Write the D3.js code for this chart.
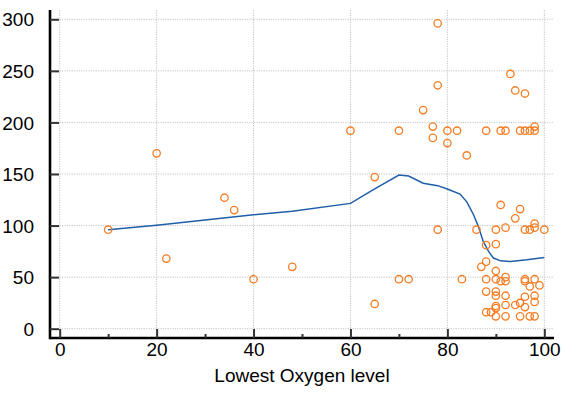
<!DOCTYPE html>
<html><head><meta charset="utf-8">
<script src="https://cdn.jsdelivr.net/npm/d3@7"></script>
<style>body{margin:0;background:#fff}svg{display:block}</style>
</head><body>
<svg id="c" width="561" height="394"></svg>
<script>
const xTicks = [0, 20, 40, 60, 80, 100];
const xMinorTicks = [10, 30, 50, 70, 90];
const yTicks = [0, 50, 100, 150, 200, 250, 300];
const xTitle = "Lowest Oxygen level";

const pointsX = [10,20,22,34,36,40,48,60,65,65,70,70,72,75,77,77,78,78,78,80,80,82,83,84,
  86,87,88,88,88,88,88,88,89,90,90,90,90,90,90,90,90,90,91,91,91,92,92,92,92,92,92,92,
  93,94,94,94,95,95,95,95,96,96,96,96,96,96,96,97,97,97,97,98,98,98,98,98,98,98,98,99,100];
const pointsY = [96,170,68,127,115,48,60,192,147,24,192,48,48,212,196,185,296,236,96,192,180,192,48,168,
  96,60,192,81,65,48,36,16,16,96,82,56,48,36,32,22,20,12,192,120,46,192,98,50,46,32,23,12,
  247,231,107,23,12,116,192,25,228,192,96,48,46,31,21,12,192,96,41,26,192,196,98,102,48,32,12,42,96];

const lineX = [10,20,40,48,60,65,70,72,75,78,80,82.6,84,85.4,86.4,87.4,88.5,89.5,91,93,96.4,100];
const lineY = [96,100.4,110.4,114,121.5,135.5,149,148,141,138.7,135.5,130.5,123,110.5,99,84.5,75,68.5,65.8,65.1,66.8,69];

const svg = d3.select("#c");
const L = 50, R = 554, T = 10, B = 338;
const x = d3.scaleLinear().domain([-2, 102]).range([L, R]);
const y = d3.scaleLinear().domain([-9, 309]).range([B, T]);
const font = "'Liberation Sans', Arial, sans-serif";

// grid
const grid = svg.append("g");
grid.selectAll("line.gx").data(xTicks).join("line")
  .attr("x1", d => x(d)).attr("x2", d => x(d)).attr("y1", T).attr("y2", B)
  .attr("stroke", "#c4c4c4").attr("stroke-width", 1).attr("stroke-dasharray", "1.2,1.2");
grid.selectAll("line.gy").data(yTicks).join("line")
  .attr("x1", L).attr("x2", R).attr("y1", d => y(d)).attr("y2", d => y(d))
  .attr("stroke", "#c4c4c4").attr("stroke-width", 1).attr("stroke-dasharray", "1.2,1.2");

// line
svg.append("path")
  .datum(lineX.map((d, i) => [d, lineY[i]]))
  .attr("fill", "none").attr("stroke", "#1f5ea8").attr("stroke-width", 1.5)
  .attr("d", d3.line().x(d => x(d[0])).y(d => y(d[1])));

// points
svg.append("g").selectAll("circle").data(pointsX.map((d, i) => [d, pointsY[i]])).join("circle")
  .attr("cx", d => x(d[0])).attr("cy", d => y(d[1])).attr("r", 3.7)
  .attr("fill", "none").attr("stroke", "#f57c23").attr("stroke-width", 1.3);

// axes
const xAxis = svg.append("g").attr("transform", `translate(0,${B})`)
  .call(d3.axisBottom(x).tickValues(xTicks).tickSize(-9).tickPadding(5).tickFormat(d3.format("d")));
const xMinor = svg.append("g").attr("transform", `translate(0,${B})`)
  .call(d3.axisBottom(x).tickValues(xMinorTicks).tickSize(-4).tickFormat(""));
const yAxis = svg.append("g").attr("transform", `translate(${L},0)`)
  .call(d3.axisLeft(y).tickValues(yTicks).tickSize(-9).tickPadding(16).tickFormat(d3.format("d")));

[xAxis, xMinor, yAxis].forEach(g => {
  g.select(".domain").attr("stroke", "#000").attr("stroke-width", 2.6);
  g.selectAll(".tick line").attr("stroke", "#333").attr("stroke-width", 2);
  g.selectAll(".tick text").attr("font-family", font).attr("font-size", 19).attr("fill", "#000");
});
xMinor.select(".domain").remove();
xAxis.selectAll(".tick text").attr("dy", "0.71em");
yAxis.selectAll(".tick text").attr("dy", "0.35em");
xAxis.select(".domain").attr("d", `M${L},0H${R}`);
yAxis.select(".domain").attr("d", `M0,${T}V${B + 1.3}`);

svg.append("text").attr("x", 302).attr("y", 382).attr("text-anchor", "middle")
  .attr("font-family", font).attr("font-size", 19).attr("fill", "#000").text(xTitle);
</script>
</body></html>
